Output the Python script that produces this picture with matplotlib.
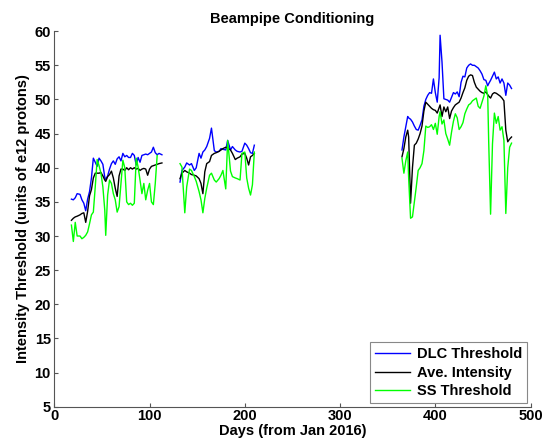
import matplotlib
matplotlib.use("Agg")
import matplotlib.pyplot as plt

plt.rcParams['font.family'] = ['Liberation Sans', 'DejaVu Sans']
plt.rcParams['font.weight'] = 'bold'

# ---- data (days from Jan 2016, intensity in e12 protons) ----
days1 = [18, 20, 22, 24, 27, 29, 31, 33, 35, 37, 39, 41, 43, 45, 47, 49, 51, 53, 54, 56,
         58, 60, 62, 64, 66, 68, 70, 72, 74, 76, 78, 80, 82, 84, 86, 88, 90, 92, 94, 96,
         98, 100, 102, 104, 106, 108, 110, 113]
dlc1 = [35.4, 35.3, 35.6, 36.2, 36.1, 35.3, 34.8, 33.7, 35.4, 36.5, 38.5, 41.4, 40.8, 40.2,
        41.4, 41.0, 40.5, 38.6, 38.3, 38.8, 39.8, 40.6, 41.0, 40.5, 41.3, 41.6, 41.0, 42.1,
        41.6, 41.8, 41.5, 41.5, 42.1, 41.8, 40.4, 41.5, 40.8, 41.8, 41.9, 42.0, 41.9, 42.1,
        42.3, 43.0, 42.2, 41.9, 42.1, 41.9]
ave1 = [32.3, 32.6, 32.8, 32.9, 33.1, 33.3, 33.4, 32.0, 33.6, 35.9, 36.8, 38.5, 39.2, 39.2,
        39.2, 39.3, 38.8, 38.2, 38.0, 38.7, 39.0, 39.5, 38.5, 37.0, 35.8, 38.8, 39.8, 39.8,
        39.6, 40.0, 39.7, 40.0, 39.8, 40.0, 39.8, 39.9, 39.6, 39.8, 39.9, 39.8, 38.9, 39.8,
        40.2, 40.3, 40.4, 40.5, 40.6, 40.7]
ss1 = [31.6, 29.2, 32.0, 30.0, 30.0, 29.6, 29.8, 30.1, 30.6, 31.8, 33.1, 33.5, 37.2, 41.2,
       40.3, 39.2, 37.2, 33.8, 30.1, 36.0, 38.2, 37.7, 36.2, 35.3, 33.5, 34.3, 37.7, 41.1,
       40.0, 35.0, 34.6, 34.8, 34.5, 34.8, 41.4, 40.1, 38.2, 36.2, 37.7, 35.3, 36.7, 37.7,
       35.0, 34.6, 37.7, 41.8]

days2 = [132, 134, 137, 139, 142, 144, 147, 149, 152, 154, 156, 158, 160, 163, 165, 168, 170,
         173, 175, 177, 180, 182, 185, 187, 190, 192, 195, 197, 200, 202, 204, 206, 208, 210]
dlc2 = [37.9, 39.6, 40.1, 40.7, 40.4, 40.6, 39.6, 40.0, 42.1, 41.4, 42.3, 42.6, 43.1, 44.3,
        45.8, 42.5, 42.3, 42.4, 42.8, 42.7, 42.6, 44.0, 42.6, 43.1, 42.6, 42.4, 42.3, 42.4,
        43.6, 43.3, 42.8, 42.2, 42.1, 43.3]
ave2 = [38.4, 39.2, 39.6, 39.4, 39.2, 39.0, 38.9, 38.8, 38.4, 37.7, 36.2, 39.4, 40.6, 40.9,
        41.8, 42.1, 42.2, 42.4, 42.6, 42.8, 43.0, 42.9, 42.6, 42.1, 41.2, 41.4, 41.6, 42.0,
        42.1, 41.4, 40.4, 41.6, 41.8, 42.1]
ss2 = [40.6, 40.1, 33.4, 37.2, 39.8, 39.6, 38.7, 38.0, 36.5, 35.3, 33.4, 35.5, 37.0, 38.9,
       39.2, 38.2, 37.9, 38.4, 38.9, 39.6, 36.9, 44.0, 39.5, 38.7, 38.5, 38.4, 38.2, 42.1,
       42.3, 38.5, 37.0, 36.0, 37.5, 42.3]

days3 = [365, 367, 369, 371, 372, 374, 376, 378, 380, 382, 384, 386, 388, 390, 392, 394, 396,
         398, 400, 402, 404, 405, 407, 409, 411, 413, 415, 417, 419, 421, 423, 425, 427, 429,
         431, 433, 435, 437, 439, 441, 443, 445, 447, 449, 451, 453, 455, 456, 458, 460, 462,
         464, 466, 468, 470, 472, 474, 476, 478, 480]
dlc3 = [42.6, 44.5, 46.0, 47.5, 47.3, 47.1, 46.7, 46.1, 45.6, 45.5, 46.2, 47.0, 49.0, 50.0,
        50.6, 51.0, 50.9, 53.0, 51.0, 49.6, 53.2, 59.4, 55.5, 50.1, 50.0, 49.9, 49.6, 50.3,
        51.0, 50.8, 51.1, 50.4, 52.5, 53.4, 53.3, 54.6, 55.0, 55.2, 55.0, 55.0, 54.8, 54.6,
        54.2, 53.7, 52.9, 52.8, 52.0, 52.3, 52.8, 53.4, 54.0, 53.0, 53.3, 52.4, 53.0, 52.4,
        50.6, 52.4, 52.1, 51.6]
ave3 = [41.6, 42.8, 44.5, 45.5, 44.5, 34.8, 40.0, 43.3, 43.6, 44.2, 45.0, 46.1, 48.3, 49.6,
        49.3, 49.0, 48.7, 48.5, 48.4, 48.0, 48.8, 49.2, 47.5, 48.9, 48.2, 48.9, 47.2, 48.3,
        48.8, 49.2, 49.4, 49.6, 50.2, 51.0, 51.7, 52.8, 53.4, 53.6, 53.5, 52.5, 51.8, 51.5,
        51.2, 51.0, 50.9, 51.1, 50.7, 50.5, 50.2, 50.8, 51.0, 50.9, 50.7, 50.5, 50.2, 49.8,
        45.5, 43.8, 44.2, 44.5]
ss3 = [41.4, 39.2, 41.0, 42.3, 38.5, 32.6, 32.8, 35.0, 37.2, 39.6, 40.0, 40.6, 42.5, 46.1,
       45.9, 46.0, 46.3, 45.6, 46.5, 44.9, 47.5, 48.2, 46.4, 47.0, 45.0, 44.2, 43.3, 45.2,
       46.8, 47.9, 47.3, 45.6, 46.0, 46.6, 47.9, 48.6, 49.2, 49.4, 49.8, 50.0, 50.2, 49.0,
       48.7, 49.6, 50.5, 52.0, 50.5, 44.0, 33.2, 43.5, 48.0, 46.5, 47.5, 45.5, 46.0, 44.0,
       33.3, 40.0, 43.0, 43.6]

labels = ['DLC Threshold', 'Ave. Intensity', 'SS Threshold']
colors = ['#0000ff', '#000000', '#00ff00']

fig = plt.figure(figsize=(5.5, 4.45), dpi=100)
ax = fig.add_axes([0.0987, 0.086, 0.866, 0.844])

segments = [
    (days1, [dlc1, ave1, ss1]),
    (days2, [dlc2, ave2, ss2]),
    (days3, [dlc3, ave3, ss3]),
]
for si, (d, series) in enumerate(segments):
    for k, vals in enumerate(series):
        ax.plot(d[:len(vals)], vals, color=colors[k], lw=1.0,
                label=labels[k] if si == 0 else None)

ax.set_xlim(0, 500)
ax.set_ylim(5, 60)
ax.set_xticks(range(0, 501, 100))
ax.set_yticks(range(5, 61, 5))
for s in ['top', 'right']:
    ax.spines[s].set_visible(False)
for s in ['left', 'bottom']:
    ax.spines[s].set_color('#555555')
    ax.spines[s].set_linewidth(0.8)
ax.tick_params(axis='both', direction='in', length=3, width=0.8, color='#555555',
               labelsize=10.5, labelcolor='black')
ax.tick_params(axis='y', pad=2.5)
ax.tick_params(axis='x', pad=1.5)
for lab in ax.get_xticklabels() + ax.get_yticklabels():
    lab.set_fontweight('bold')

ax.set_title('Beampipe Conditioning', fontsize=10.5, fontweight='bold', pad=6)
ax.set_xlabel('Days (from Jan 2016)', fontsize=10.5, fontweight='bold', labelpad=1)
ax.set_ylabel('Intensity Threshold (units of e12 protons)', fontsize=10.5,
              fontweight='bold', labelpad=3)

leg = ax.legend(loc='lower right', fancybox=False, framealpha=1, edgecolor='#888888',
                prop={'size': 10.5, 'weight': 'bold'}, handlelength=2.4,
                handletextpad=0.45, labelspacing=0.3, borderaxespad=0.25,
                borderpad=0.35)
leg.get_frame().set_linewidth(0.8)

fig.savefig('out.png', dpi=100)
